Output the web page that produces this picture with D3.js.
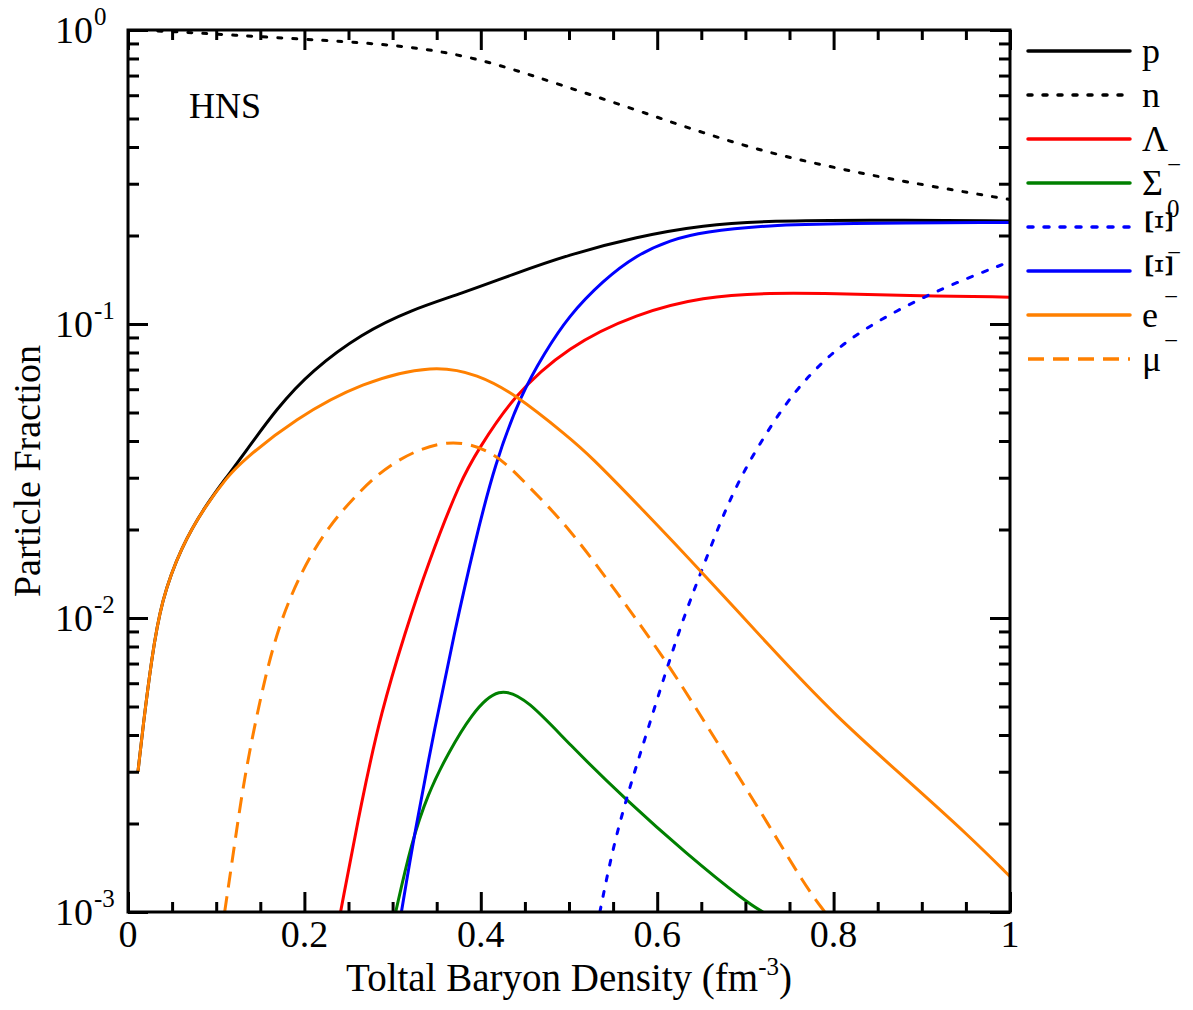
<!DOCTYPE html>
<html>
<head>
<meta charset="utf-8">
<script src="https://cdn.jsdelivr.net/npm/d3@7"></script>
<style>
  html, body { margin: 0; padding: 0; background: #fff; }
  svg text { font-family: "Liberation Serif", "Times New Roman", serif; fill: #000; }
</style>
</head>
<body>
<svg id="chart" width="1193" height="1010"></svg>
<script>
// ---------------- data ----------------
const xTicksMajor = [0, 0.2, 0.4, 0.6, 0.8, 1];
const xTickLabels = ["0", "0.2", "0.4", "0.6", "0.8", "1"];
const yTicksMajor = [1e-3, 1e-2, 1e-1, 1];
const yTickExponents = ["-3", "-2", "-1", "0"];

const pX = [0.0113, 0.017, 0.0265, 0.0378, 0.0605, 0.087, 0.113, 0.125, 0.170, 0.208, 0.265, 0.321, 0.378, 0.435, 0.499, 0.577, 0.652, 0.728, 0.841, 1.000];
const pY = [0.0030, 0.00427, 0.00719, 0.0115, 0.0175, 0.0239, 0.0305, 0.0340, 0.0524, 0.0693, 0.0929, 0.1117, 0.127, 0.147, 0.172, 0.198, 0.217, 0.2244, 0.226, 0.224];

const nX = [0, 0.05, 0.113, 0.227, 0.302, 0.359, 0.416, 0.491, 0.577, 0.652, 0.728, 0.803, 0.879, 1.0];
const nY = [1.0, 0.99, 0.962, 0.921, 0.889, 0.843, 0.771, 0.650, 0.534, 0.446, 0.381, 0.339, 0.305, 0.265];

const lamX = [0.241, 0.265, 0.287, 0.314, 0.340, 0.378, 0.397, 0.435, 0.499, 0.577, 0.652, 0.728, 0.803, 0.879, 1.0];
const lamY = [0.001, 0.0024, 0.00479, 0.00891, 0.0153, 0.0299, 0.0372, 0.0562, 0.0841, 0.1086, 0.1239, 0.1277, 0.1268, 0.1251, 0.1234];

const sigX = [0.3035, 0.321, 0.340, 0.363, 0.389, 0.420, 0.454, 0.499, 0.565, 0.633, 0.701, 0.720];
const sigY = [0.001, 0.00171, 0.00253, 0.00347, 0.00470, 0.00590, 0.00525, 0.00375, 0.0024, 0.00158, 0.00108, 0.001];

const xi0X = [0.535, 0.550, 0.569, 0.588, 0.611, 0.633, 0.652, 0.675, 0.701, 0.747, 0.785, 0.822, 0.879, 0.936, 1.0];
const xi0Y = [0.001, 0.00167, 0.00267, 0.00405, 0.00676, 0.01065, 0.0149, 0.0226, 0.0331, 0.0551, 0.0735, 0.0912, 0.1145, 0.1374, 0.163];

const ximX = [0.310, 0.325, 0.348, 0.370, 0.393, 0.416, 0.446, 0.472, 0.499, 0.539, 0.577, 0.615, 0.652, 0.728, 0.803, 1.0];
const ximY = [0.001, 0.00186, 0.00427, 0.00891, 0.01795, 0.0336, 0.058, 0.0794, 0.106, 0.141, 0.172, 0.193, 0.206, 0.217, 0.220, 0.2215];

const eX = [0.0113, 0.017, 0.0265, 0.0378, 0.0605, 0.087, 0.113, 0.130, 0.189, 0.265, 0.348, 0.397, 0.438, 0.499, 0.524, 0.577, 0.652, 0.728, 0.803, 0.879, 0.955, 1.000];
const eY = [0.0030, 0.00427, 0.00719, 0.0115, 0.0175, 0.0239, 0.0303, 0.0343, 0.0475, 0.0635, 0.0730, 0.0672, 0.058, 0.0414, 0.0356, 0.0245, 0.0142, 0.00797, 0.00461, 0.00289, 0.0018, 0.00132];

const muX = [0.1096, 0.121, 0.132, 0.151, 0.170, 0.197, 0.227, 0.265, 0.302, 0.363, 0.416, 0.454, 0.499, 0.558, 0.615, 0.671, 0.728, 0.766, 0.790];
const muY = [0.001, 0.00171, 0.00289, 0.00554, 0.00933, 0.01456, 0.0205, 0.0275, 0.0345, 0.0412, 0.0370, 0.028, 0.0205, 0.0118, 0.00683, 0.00365, 0.00195, 0.00125, 0.001];

// ---------------- layout ----------------
const svg = d3.select("#chart");
const L = 128, R = 1010, T = 30, B = 912;
const x = d3.scaleLinear().domain([0, 1]).range([L, R]);
const y = d3.scaleLog().domain([1e-3, 1]).range([B, T]);

const series = [
  {name: "p",  xs: pX,   ys: pY,   color: "#000000", dash: null,    cap: "butt"},
  {name: "n",  xs: nX,   ys: nY,   color: "#000000", dash: "4,11",  cap: "round"},
  {name: "Λ",  xs: lamX, ys: lamY, color: "#ff0000", dash: null,    cap: "butt"},
  {name: "Σ",  xs: sigX, ys: sigY, color: "#008000", dash: null,    cap: "butt"},
  {name: "Ξ0", xs: xi0X, ys: xi0Y, color: "#0000ff", dash: "5,11",  cap: "round"},
  {name: "Ξ",  xs: ximX, ys: ximY, color: "#0000ff", dash: null,    cap: "butt"},
  {name: "e",  xs: eX,   ys: eY,   color: "#ff8000", dash: null,    cap: "butt"},
  {name: "μ",  xs: muX,  ys: muY,  color: "#ff8000", dash: "16,9",  cap: "butt"}
];

svg.append("defs").append("clipPath").attr("id", "plotclip")
  .append("rect").attr("x", L).attr("y", T).attr("width", R - L).attr("height", B - T);

const line = d3.line().x(d => x(d[0])).y(d => y(d[1])).curve(d3.curveBasis);

const gLines = svg.append("g").attr("clip-path", "url(#plotclip)");
series.forEach(s => {
  const pts = s.xs.map((v, i) => [v, s.ys[i]]);
  gLines.append("path")
    .attr("d", line(pts))
    .attr("fill", "none")
    .attr("stroke", s.color)
    .attr("stroke-width", 3)
    .attr("stroke-linecap", s.cap)
    .attr("stroke-dasharray", s.dash);
});

// ---------------- axes ----------------
const xMinor = d3.range(0, 1.0001, 0.05).filter(v => Math.abs(v / 0.2 - Math.round(v / 0.2)) > 1e-6);
const yMinor = [];
[1e-3, 1e-2, 1e-1].forEach(d => { for (let k = 2; k <= 9; k++) yMinor.push(d * k); });

function styleAxis(g) {
  g.select(".domain").remove();
  g.selectAll(".tick line").attr("stroke", "#000").attr("stroke-width", 3);
  g.selectAll(".tick text").remove();
}
svg.append("g").attr("transform", `translate(0,${B})`).call(d3.axisBottom(x).tickValues(xTicksMajor).tickSize(-20)).call(styleAxis);
svg.append("g").attr("transform", `translate(0,${B})`).call(d3.axisBottom(x).tickValues(xMinor).tickSize(-10)).call(styleAxis);
svg.append("g").attr("transform", `translate(0,${T})`).call(d3.axisTop(x).tickValues(xTicksMajor).tickSize(-20)).call(styleAxis);
svg.append("g").attr("transform", `translate(0,${T})`).call(d3.axisTop(x).tickValues(xMinor).tickSize(-10)).call(styleAxis);
svg.append("g").attr("transform", `translate(${L},0)`).call(d3.axisLeft(y).tickValues(yTicksMajor).tickSize(-20)).call(styleAxis);
svg.append("g").attr("transform", `translate(${L},0)`).call(d3.axisLeft(y).tickValues(yMinor).tickSize(-11)).call(styleAxis);
svg.append("g").attr("transform", `translate(${R},0)`).call(d3.axisRight(y).tickValues(yTicksMajor).tickSize(-20)).call(styleAxis);
svg.append("g").attr("transform", `translate(${R},0)`).call(d3.axisRight(y).tickValues(yMinor).tickSize(-11)).call(styleAxis);

svg.append("rect").attr("x", L).attr("y", T).attr("width", R - L).attr("height", B - T)
  .attr("fill", "none").attr("stroke", "#000").attr("stroke-width", 3);

// x tick labels
xTicksMajor.forEach((v, i) => {
  svg.append("text").attr("x", x(v)).attr("y", 947).attr("text-anchor", "middle")
    .attr("font-size", 38).text(xTickLabels[i]);
});
// y tick labels
yTicksMajor.forEach((v, i) => {
  const base = y(v) + 13;
  svg.append("text").attr("x", 93).attr("y", base).attr("text-anchor", "end")
    .attr("font-size", 38).text("10");
  svg.append("text").attr("x", 94).attr("y", base - 18).attr("text-anchor", "start")
    .attr("font-size", 25).text(yTickExponents[i]);
});

// axis titles
const xt = svg.append("text").attr("x", (L + R) / 2).attr("y", 991).attr("text-anchor", "middle").attr("font-size", 39);
xt.append("tspan").text("Toltal Baryon Density (fm");
xt.append("tspan").attr("font-size", 25).attr("dy", -16).text("-3");
xt.append("tspan").attr("dy", 16).text(")");

svg.append("text").attr("transform", `translate(40,${(T + B) / 2}) rotate(-90)`)
  .attr("text-anchor", "middle").attr("font-size", 38).text("Particle Fraction");

svg.append("text").attr("x", 189).attr("y", 118).attr("font-size", 36).text("HNS");

// ---------------- legend ----------------
const legX1 = 1028, legX2 = 1130, legY0 = 51, legStep = 44;
series.forEach((s, i) => {
  const yy = legY0 + i * legStep;
  svg.append("line").attr("x1", legX1).attr("x2", legX2).attr("y1", yy).attr("y2", yy)
    .attr("stroke", s.color).attr("stroke-width", 3.5)
    .attr("stroke-linecap", s.dash ? s.cap : "round")
    .attr("stroke-dasharray", s.dash);
});
function legText(i, main, sup, rotateXi) {
  const yy = legY0 + i * legStep;
  if (rotateXi) {
    svg.append("text").attr("transform", `translate(1146,${yy - 18}) rotate(90)`)
      .attr("text-anchor", "start").attr("font-size", 40).text(main);
  } else {
    svg.append("text").attr("x", 1142).attr("y", yy + 12).attr("font-size", 36).text(main);
  }
  if (sup) {
    const sx = (main === "Σ" || rotateXi) ? 1167 : 1164;
    svg.append("text").attr("x", sx).attr("y", yy - 10).attr("font-size", 25).text(sup);
  }
}
legText(0, "p", null, false);
legText(1, "n", null, false);
legText(2, "Λ", null, false);
legText(3, "Σ", "−", false);
legText(4, "Ξ", "0", true);
legText(5, "Ξ", "−", true);
legText(6, "e", "−", false);
legText(7, "μ", "−", false);
</script>
</body>
</html>
